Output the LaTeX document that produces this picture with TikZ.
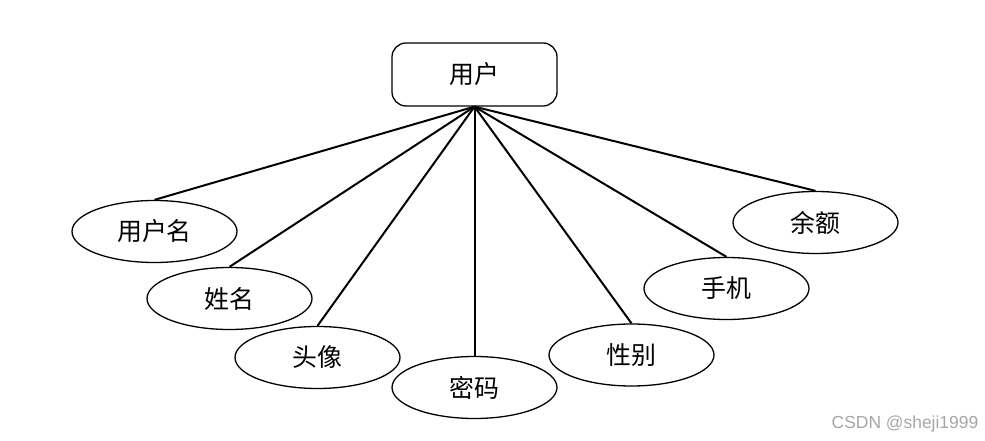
\documentclass[tikz,border=0pt]{standalone}
\usepackage{fontspec}
\setmainfont{Noto Sans CJK SC}
\newfontfamily\wmfont{Liberation Sans}
\usetikzlibrary{shapes.geometric}
\begin{document}
\begin{tikzpicture}[x=1bp, y=-1bp, line width=1.3bp,
        entity/.style = {draw, rounded corners=14bp, minimum width=165bp, minimum height=63bp, inner sep=0pt, font=\fontsize{25}{28}\selectfont},
        attr/.style = {draw, ellipse, minimum width=165bp, minimum height=62bp, inner sep=0pt, font=\fontsize{25}{28}\selectfont},
        link/.style = {line width=2bp}]
        \useasboundingbox (0,0) rectangle (985,441);
        \node[entity] (user) at (474.5,74.5) {用户};
        \node[attr] (uname) at (154.5,231.5) {用户名};
        \node[attr] (name) at (229.5,298.5) {姓名};
        \node[attr] (avatar) at (317.5,357.5) {头像};
        \node[attr] (pwd) at (474.5,387.5) {密码};
        \node[attr] (sex) at (631.5,355) {性别};
        \node[attr] (phone) at (726.5,288.5) {手机};
        \node[attr] (balance) at (815.5,222.5) {余额};
        \foreach \a in {uname, name, avatar, pwd, sex, phone, balance}
            \draw[link] (user.south) -- (\a.north);
        \node[text=black!35, font=\wmfont\fontsize{17.5}{19}\selectfont] (mark) at (905,424) {CSDN @sheji1999};
    \end{tikzpicture}
\end{document}
